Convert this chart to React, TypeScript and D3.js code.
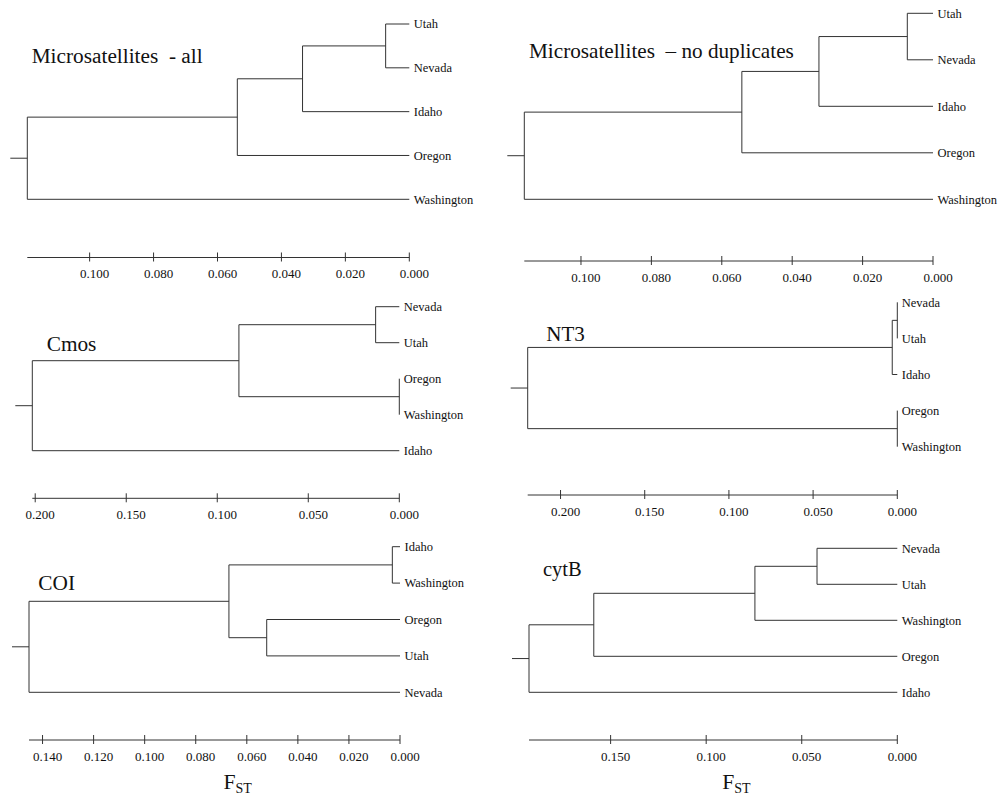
import { hierarchy, scaleLinear, scalePoint, HierarchyNode } from "d3";

type TreeNode = { name?: string; h?: number; children?: TreeNode[] };

const leaf = (name: string): TreeNode => ({ name });
const node = (h: number, ...children: TreeNode[]): TreeNode => ({ h, children });

// F_ST trees, merge heights
const msAllTree = node(0.1195,
  node(0.0538,
    node(0.0334, node(0.0074, leaf("Utah"), leaf("Nevada")), leaf("Idaho")),
    leaf("Oregon")),
  leaf("Washington"));

const msNoDupTree = node(0.1161,
  node(0.0543,
    node(0.0324, node(0.0073, leaf("Utah"), leaf("Nevada")), leaf("Idaho")),
    leaf("Oregon")),
  leaf("Washington"));

const cmosTree = node(0.2016,
  node(0.0881,
    node(0.013, leaf("Nevada"), leaf("Utah")),
    node(0, leaf("Oregon"), leaf("Washington"))),
  leaf("Idaho"));

const nt3Tree = node(0.2195,
  node(0.003, node(0, leaf("Nevada"), leaf("Utah")), leaf("Idaho")),
  node(0, leaf("Oregon"), leaf("Washington")));

const coiTree = node(0.1453,
  node(0.067,
    node(0.003, leaf("Idaho"), leaf("Washington")),
    node(0.0522, leaf("Oregon"), leaf("Utah"))),
  leaf("Nevada"));

const cytbTree = node(0.1927,
  node(0.1588,
    node(0.0745, node(0.042, leaf("Nevada"), leaf("Utah")), leaf("Washington")),
    leaf("Oregon")),
  leaf("Idaho"));

const ticks02 = [0.1, 0.08, 0.06, 0.04, 0.02, 0];
const ticks05 = [0.2, 0.15, 0.1, 0.05, 0];
const ticksCoi = [0.14, 0.12, 0.1, 0.08, 0.06, 0.04, 0.02, 0];
const ticksCytb = [0.15, 0.1, 0.05, 0];

const panels = [
  { title: "Microsatellites  - all", tree: msAllTree, ticks: ticks02, x0: 27.3, x1: 409.3, yTop: 24, yBot: 199.3, axisY: 257.5, tx: 31.7, ty: 63, tSize: 21.3, fst: false },
  { title: "Microsatellites  \u2013 no duplicates", tree: msNoDupTree, ticks: ticks02, x0: 524.3, x1: 933, yTop: 13.3, yBot: 199.3, axisY: 261, tx: 529, ty: 58.3, tSize: 21.2, fst: false },
  { title: "Cmos", tree: cmosTree, ticks: ticks05, x0: 32.3, x1: 399.3, yTop: 306.7, yBot: 450.7, axisY: 498.3, tx: 46.7, ty: 351, tSize: 21.3, fst: false },
  { title: "NT3", tree: nt3Tree, ticks: ticks05, x0: 527.7, x1: 897.3, yTop: 302.3, yBot: 446.7, axisY: 495, tx: 546.3, ty: 341, tSize: 21, fst: false },
  { title: "COI", tree: coiTree, ticks: ticksCoi, x0: 29, x1: 400, yTop: 546.7, yBot: 692.3, axisY: 740, tx: 38.3, ty: 590, tSize: 21.3, fst: true },
  { title: "cytB", tree: cytbTree, ticks: ticksCytb, x0: 529, x1: 897.3, yTop: 548.3, yBot: 692.3, axisY: 740, tx: 543, ty: 576, tSize: 20.5, fst: true },
];

const font = "'Liberation Serif', 'DejaVu Serif', 'Noto Serif', 'Times New Roman', Times, serif";
const ink = "#333";

function Dendrogram({ p }: { p: (typeof panels)[number] }) {
  const root = hierarchy(p.tree);
  const x = scaleLinear().domain([0, p.tree.h as number]).range([p.x1, p.x0]);
  const names = root.leaves().map((d) => d.data.name as string);
  const y = scalePoint<string>().domain(names).range([p.yTop, p.yBot]);

  // internal nodes sit halfway between their first and last child
  const yOf = new Map<HierarchyNode<TreeNode>, number>();
  root.eachAfter((d) => {
    if (!d.children) yOf.set(d, y(d.data.name as string) as number);
    else yOf.set(d, (yOf.get(d.children[0])! + yOf.get(d.children[d.children.length - 1])!) / 2);
  });
  const hOf = (d: HierarchyNode<TreeNode>) => d.data.h ?? 0;

  const segs: [number, number, number, number][] = [];
  root.each((d) => {
    if (!d.children) return;
    const px = x(hOf(d));
    const c0 = d.children[0], c1 = d.children[d.children.length - 1];
    segs.push([px, yOf.get(c0)!, px, yOf.get(c1)!]);
    d.children.forEach((c) => segs.push([px, yOf.get(c)!, x(hOf(c)), yOf.get(c)!]));
  });
  const rx = x(hOf(root)), ry = yOf.get(root)!;
  segs.push([rx - 17, ry, rx, ry]);

  return (
    <g>
      <text x={p.tx} y={p.ty} fontSize={p.tSize} fill="#111" style={{ whiteSpace: "pre", fontFamily: font }}>{p.title}</text>
      {segs.map(([a, b, c, e], i) => (
        <line key={i} x1={a} y1={b} x2={c} y2={e} stroke={ink} strokeWidth={1} />
      ))}
      {root.leaves().map((l) => (
        <text key={l.data.name} x={x(0) + 4.5} y={yOf.get(l)!} dy="0.35em" fontSize={12.5} fill="#111" style={{ fontFamily: font }}>
          {l.data.name}
        </text>
      ))}
      <line x1={rx} x2={x(0)} y1={p.axisY} y2={p.axisY} stroke={ink} />
      {p.ticks.map((t) => (
        <g key={t}>
          <line x1={x(t)} x2={x(t)} y1={p.axisY - 5} y2={p.axisY + 4} stroke={ink} />
          <text x={x(t) + 5} y={p.axisY + 16} dy="0.35em" textAnchor="middle" fontSize={13} fill="#111" style={{ fontFamily: font }}>
            {t.toFixed(3)}
          </text>
        </g>
      ))}
      {p.fst && (
        <text x={(p.x0 + p.x1) / 2 + 9} y={789.3} fontSize={21.7} fill="#111" style={{ fontFamily: font }}>
          F<tspan fontSize={14} dy={3.4}>ST</tspan>
        </text>
      )}
    </g>
  );
}

export default function App() {
  return (
    <svg width={998} height={795} style={{ position: "absolute", left: 0, top: 0, background: "#fff", fontFamily: font }}>
      <rect width={998} height={795} fill="#fff" />
      {panels.map((p) => <Dendrogram key={p.title} p={p} />)}
    </svg>
  );
}
